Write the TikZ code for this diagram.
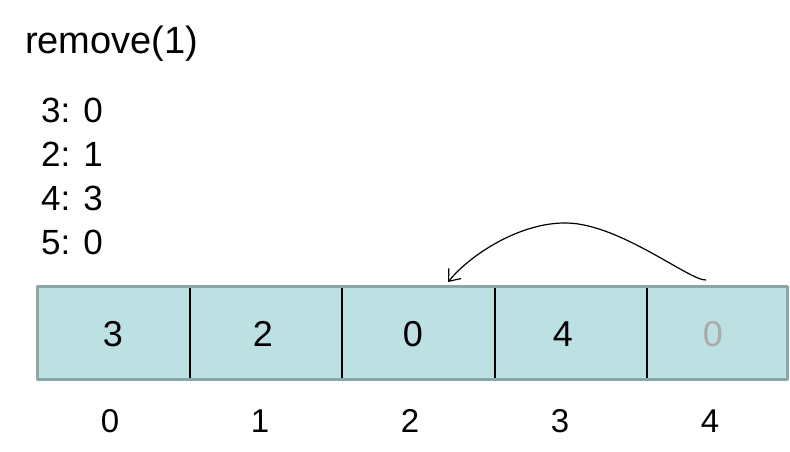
\documentclass[tikz,border=0pt]{standalone}
\usepackage{fontspec}
\setmainfont{Liberation Sans}
\usepackage{tikz}
\usetikzlibrary{arrows.meta}

\definecolor{cellfill}{RGB}{189,224,227}
\definecolor{cellrim}{RGB}{138,166,166}
\definecolor{oldval}{RGB}{170,170,170}

\begin{document}
\begin{tikzpicture}[x=1pt,y=-1pt,
    val/.style={font=\fontsize{36}{40}\selectfont},
    idx/.style={font=\fontsize{33}{36}\selectfont},
    line/.style={anchor=base west,font=\fontsize{35}{40}\selectfont,inner sep=0pt}]
\useasboundingbox (0,0) rectangle (790,451);
\node[line,font=\fontsize{38}{42}\selectfont] (call) at (25,53) {remove(1)};
\node[line] (l3) at (41,122) {3: 0};
\node[line] (l2) at (41,166) {2: 1};
\node[line] (l4) at (41,210) {4: 3};
\node[line] (l5) at (41,254) {5: 0};
\fill[cellfill] (37,286) rectangle (787,379);
\foreach \x in {190,342,495,647}
  \draw[line width=1.5pt] (\x,286) -- (\x,379);
\draw[line width=3pt,cellrim,line join=round] (37,286) rectangle (787,379);
\node[val] (v0) at (113,334) {3};
\node[val] (v1) at (263,334) {2};
\node[val] (v2) at (413,334) {0};
\node[val] (v3) at (563,334) {4};
\node[val,oldval] (v4) at (713,334) {0};
\foreach \i in {0,...,4}
  \node[idx] (i\i) at (110+150*\i,421) {\i};
\coordinate (from) at (706,280);
\coordinate (to) at (448,282);
\draw[line width=1.2pt,-{Straight Barb[length=10pt,width=16pt]}] (from)
    .. controls (690,281) and (620,224) .. (567,223)
    .. controls (520,222) and (470,255) .. (to);
\end{tikzpicture}
\end{document}
